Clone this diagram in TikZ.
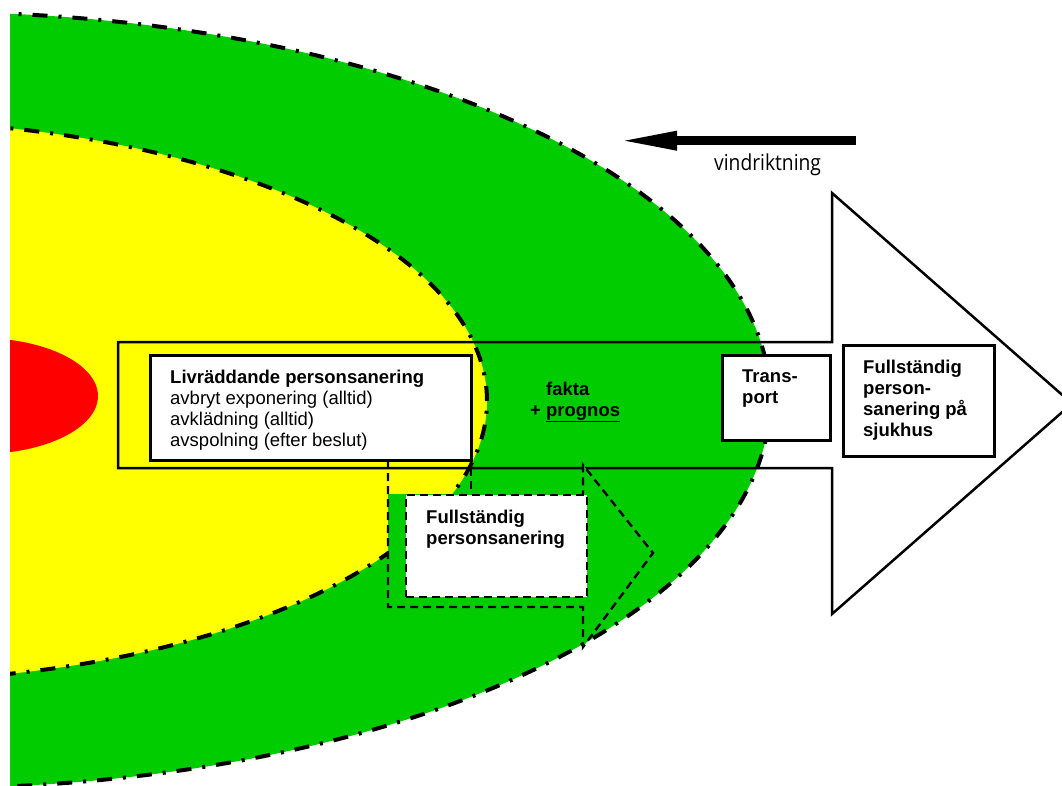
\documentclass[tikz,border=0pt]{standalone}
\usepackage{fontspec}
\setmainfont{Liberation Sans}
\newfontfamily\windfont{Open Sans}
\usetikzlibrary{arrows.meta}
\definecolor{zgreen}{RGB}{0,204,0}
\definecolor{zyellow}{RGB}{255,255,0}
\definecolor{zred}{RGB}{255,0,0}
\begin{document}
\begin{tikzpicture}[x=1pt,y=-1pt,
  zone/.style={line width=4pt, dash pattern=on 15pt off 11pt on 3pt off 11pt},
  thinline/.style={line width=2.5pt},
  dashline/.style={line width=2.4pt, dash pattern=on 8pt off 5pt},
  solidbox/.style={draw=black, line width=2.5pt, fill=white, inner sep=0pt, anchor=north west},
  dashbox/.style={draw=black, dashline, fill=white, inner sep=0pt, anchor=north west},
  txt/.style={inner sep=0pt, anchor=north west, align=left, font=\fontsize{18.5}{21}\selectfont},
  btxt/.style={txt, font=\fontsize{18.5}{21}\selectfont\bfseries}]
\useasboundingbox (0,0) rectangle (1062,785);
% zones
\begin{scope}
\clip (10,0) rectangle (1062,785);
\fill[zgreen] (-70,400) ellipse [x radius=840pt, y radius=388pt];
\fill[zyellow] (-130,401) ellipse [x radius=617pt, y radius=280pt];
\fill[zred] (-20,396) ellipse [x radius=118pt, y radius=58pt];
\draw[zone] (-70,400) ellipse [x radius=840pt, y radius=388pt];
\draw[zone] (-130,401) ellipse [x radius=617pt, y radius=280pt];
\end{scope}
% big arrow
\draw[thinline, line join=miter] (118,342) -- (832,342) -- (832,193) -- (1072,403.5) -- (832,614) -- (832,468) -- (118,468) -- cycle;
% dashed green arrow
\fill[zgreen] (388,494) -- (583,494) -- (583,465) -- (653,553) -- (583,647) -- (583,607) -- (388,607) -- cycle;
\draw[dashline] (388,460) -- (388,607) -- (583,607) -- (583,647) -- (653,553) -- (583,465) -- (583,494);
\draw[dashline] (471,468) -- (471,494);
% boxes
\node[solidbox, minimum width=321pt, minimum height=105pt] (liv) at (149,354) {};
\node[dashbox, minimum width=181pt, minimum height=102pt] (full) at (405,494) {};
\node[solidbox, minimum width=108pt, minimum height=85pt] (trans) at (721,354) {};
\node[solidbox, minimum width=151pt, minimum height=111pt] (sjuk) at (842,344) {};
% texts
\node[txt] (livtxt) at (170,369.4) {\textbf{Livräddande personsanering}\\avbryt exponering (alltid)\\avklädning (alltid)\\avspolning (efter beslut)};
\node[btxt] (fulltxt) at (426,509.4) {Fullständig\\personsanering};
\node[btxt] (transtxt) at (742,369.8) {Trans-\\port};
\node[btxt] (sjuktxt) at (863,359.4) {Fullständig\\person-\\sanering på\\sjukhus};
\node[btxt] (fakta) at (530,381.6) {\hphantom{+ }fakta\\+ \underline{prognos}};
% wind direction
\coordinate (wa) at (856,140.7);
\coordinate (wb) at (616,140.7);
\draw[line width=9pt, -{Triangle[length=61pt, width=17pt]}] (wa) -- (wb);
\node[anchor=base west, inner sep=0pt, font=\windfont\fontsize{22}{26}\selectfont] (vind) at (714,170) {\scalebox{0.875}[1]{vindriktning}};
\end{tikzpicture}
\end{document}
